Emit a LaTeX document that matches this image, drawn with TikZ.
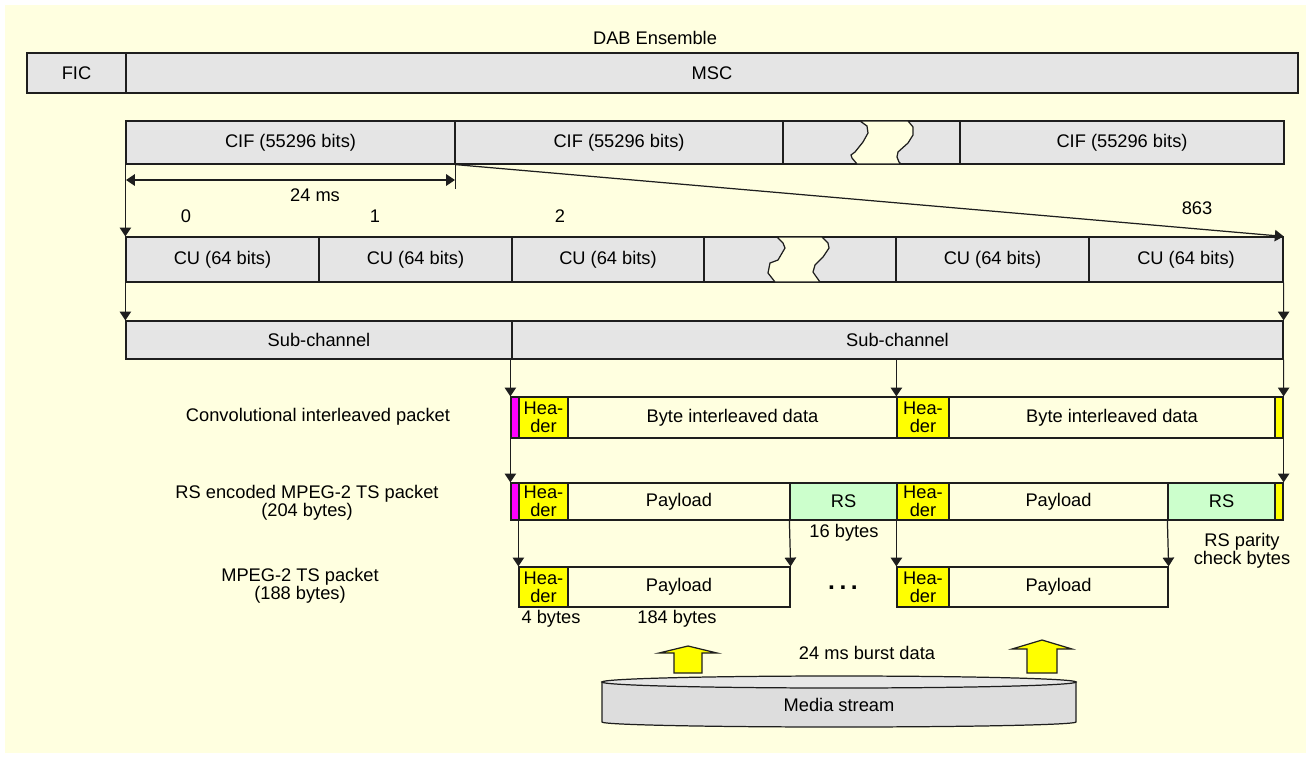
\documentclass[tikz,border=0pt]{standalone}
\usepackage{fontspec}
\setmainfont{Liberation Sans}
\usepackage{xcolor}
\usetikzlibrary{arrows.meta,fit,calc}
\definecolor{bgyellow}{RGB}{255,255,224}
\definecolor{cellgray}{RGB}{229,229,229}
\definecolor{rsgreen}{RGB}{204,255,204}
\definecolor{hdryellow}{RGB}{255,255,0}
\definecolor{hdrmagenta}{RGB}{255,0,255}
\definecolor{edge}{RGB}{30,30,30}
\definecolor{cylbody}{RGB}{221,221,221}
\definecolor{cyltop}{RGB}{230,230,230}
\tikzstyle{cell}  =[draw=edge, fill=cellgray, line width=0.7pt, inner sep=0pt]
\tikzstyle{plain} =[draw=edge, line width=0.7pt, inner sep=0pt]
\tikzstyle{hdr}   =[plain, fill=hdryellow]
\tikzstyle{strip} =[plain, fill=hdrmagenta]
\tikzstyle{tail}  =[plain, fill=hdryellow]
\tikzstyle{rsbox} =[plain, fill=rsgreen]
\tikzstyle{arr}   =[-{Triangle[width=6.5pt,length=5pt]}, line width=0.7pt, draw=edge]
\tikzstyle{dblarr}=[{Triangle[width=6.5pt,length=5pt]}-{Triangle[width=6.5pt,length=5pt]}, line width=0.7pt, draw=edge]
\tikzstyle{push}  =[fill=hdryellow, draw=edge, line width=0.7pt]
\tikzset{boxtext/.style={label={[align=center]center:#1}}}

\begin{document}
\begin{tikzpicture}[x=0.02cm, y=-0.02cm, every node/.style={font=\fontsize{10.4}{10.2}\selectfont}]

  % ── canvas ─────────────────────────────────────────────────────────────────
  \useasboundingbox (0,0) rectangle (1311,758);
  \fill[white]    (0,0) rectangle (1311,758);
  \fill[bgyellow] (5,5) rectangle (1306,753);

  % ── ensemble ───────────────────────────────────────────────────────────────
  \node (dab) at (655,38) {DAB Ensemble};
  \node[cell, fit={(27,53)(126,93)},   boxtext=FIC] (fic) {};
  \node[cell, fit={(126,53)(1298,93)}, boxtext=MSC] (msc) {};

  % ── CIFs ───────────────────────────────────────────────────────────────────
  \node[cell, fit={(126,121)(455,164)},  boxtext={CIF (55296 bits)}] (cif1) {};
  \node[cell, fit={(455,121)(783,164)},  boxtext={CIF (55296 bits)}] (cif2) {};
  \node[cell, fit={(783,121)(960,164)}]                              (cifgap) {};
  \node[cell, fit={(960,121)(1284,164)}, boxtext={CIF (55296 bits)}] (cif3) {};
  \filldraw[fill=bgyellow, draw=edge, line width=0.7pt]
    (860,121) -- (867,126) -- (868,133) -- (863,142) -- (855,152) -- (851,155) -- (852,158) -- (857,164)
    -- (901,164) -- (899,162) -- (897,157) -- (898,152) -- (908,143) -- (913,135) -- (913,127) -- (908,121) -- cycle;

  % ── CUs ────────────────────────────────────────────────────────────────────
  \node[cell, fit={(126,237)(319,282)},   boxtext={CU (64 bits)}] (cu1) {};
  \node[cell, fit={(319,237)(512,282)},   boxtext={CU (64 bits)}] (cu2) {};
  \node[cell, fit={(512,237)(704,282)},   boxtext={CU (64 bits)}] (cu3) {};
  \node[cell, fit={(704,237)(896,282)}]                           (cugap) {};
  \node[cell, fit={(896,237)(1089,282)},  boxtext={CU (64 bits)}] (cu5) {};
  \node[cell, fit={(1089,237)(1283,282)}, boxtext={CU (64 bits)}] (cu6) {};
  \filldraw[fill=bgyellow, draw=edge, line width=0.7pt]
    (777,237) -- (783,243) -- (785,248) -- (778,260) -- (770,263) -- (768,273) -- (775,282)
    -- (820,282) -- (815,275) -- (813,272) -- (815,265) -- (823,257) -- (829,248) -- (828,243) -- (822,237) -- cycle;

  \node (n0)   at (186,216)  {0};
  \node (n1)   at (375,216)  {1};
  \node (n2)   at (560,216)  {2};
  \node (n863) at (1197,208) {863};

  % ── sub-channels ───────────────────────────────────────────────────────────
  \node[cell, fit={(126,321)(512,359)},  boxtext=Sub-channel] (sub1) {};
  \node[cell, fit={(512,321)(1283,359)}, boxtext=Sub-channel] (sub2) {};

  % ── convolutional interleaved packet ───────────────────────────────────────
  \node[strip, fit={(511,397)(519,438)}]                                      (cmag)  {};
  \node[hdr,   fit={(519,397)(568,438)},  boxtext={Hea-\\der}]                (chd1)  {};
  \node[plain, fit={(568,397)(897,438)},  boxtext={Byte interleaved data}]    (cdat1) {};
  \node[hdr,   fit={(897,397)(949,438)},  boxtext={Hea-\\der}]                (chd2)  {};
  \node[plain, fit={(949,397)(1275,438)}, boxtext={Byte interleaved data}]    (cdat2) {};
  \node[tail,  fit={(1275,397)(1283,438)}]                                    (cyel)  {};

  % ── RS encoded packet ──────────────────────────────────────────────────────
  \node[strip, fit={(511,483)(519,520)}]                           (rmag)  {};
  \node[hdr,   fit={(519,483)(568,520)},   boxtext={Hea-\\der}]    (rhd1)  {};
  \node[plain, fit={(568,483)(790,520)},   boxtext=Payload]        (rpay1) {};
  \node[rsbox, fit={(790,483)(897,520)},   boxtext=RS]             (rrs1)  {};
  \node[hdr,   fit={(897,483)(949,520)},   boxtext={Hea-\\der}]    (rhd2)  {};
  \node[plain, fit={(949,483)(1168,520)},  boxtext=Payload]        (rpay2) {};
  \node[rsbox, fit={(1168,483)(1275,520)}, boxtext=RS]             (rrs2)  {};
  \node[tail,  fit={(1275,483)(1283,520)}]                         (ryel)  {};

  % ── TS packet ──────────────────────────────────────────────────────────────
  \node[hdr,   fit={(519,567)(568,607)},  boxtext={Hea-\\der}] (mhd1)  {};
  \node[plain, fit={(568,567)(790,607)},  boxtext=Payload]     (mpay1) {};
  \node[hdr,   fit={(897,567)(949,607)},  boxtext={Hea-\\der}] (mhd2)  {};
  \node[plain, fit={(949,567)(1168,607)}, boxtext=Payload]     (mpay2) {};
  \node (dots) at (843,588) {\fontsize{14}{14}\bfseries .\hspace{2.6pt}.\hspace{2.6pt}.};

  % ── row labels ─────────────────────────────────────────────────────────────
  \node[align=center] (lconv) at (318,417) {Convolutional interleaved packet};
  \node[align=center] (lrs)   at (307,503) {RS encoded MPEG-2 TS packet\\(204 bytes)};
  \node[align=center] (lts)   at (300,586) {MPEG-2 TS packet\\(188 bytes)};
  \node (b16)  at (844,533) {16 bytes};
  \node[align=center] (parity) at (1242,551) {RS parity\\check bytes};
  \node (b4)   at (551,619) {4 bytes};
  \node (b184) at (677,619) {184 bytes};

  % ── flow ───────────────────────────────────────────────────────────────────
  \coordinate (msL) at (126,180);
  \coordinate (msR) at (455,180);
  \draw[dblarr] (msL) -- (msR);
  \node (ms) at (315,195) {24 ms};
  \draw[line width=0.7pt, draw=edge] (cif1.south east) -- ++(0,24);
  \draw[arr] (cif1.south west) -- (cu1.north west);
  \draw[arr] (cif1.south east) -- (cu6.north east);
  \draw[arr] (cu1.south west)  -- (sub1.north west);
  \draw[arr] (cu6.south east)  -- (sub2.north east);
  \draw[arr] (cmag.north west |- sub2.south) -- (cmag.north west);
  \draw[arr] (chd2.north west |- sub2.south) -- (chd2.north west);
  \draw[arr] (sub2.south east) -- (cyel.north east);
  \draw[arr] (cmag.south west) -- (rmag.north west);
  \draw[arr] (cyel.south east) -- (ryel.north east);
  \draw[arr] (rhd1.south west) -- (mhd1.north west);
  \draw[arr] (rrs1.south west) -- (mpay1.north east);
  \draw[arr] (rhd2.south west) -- (mhd2.north west);
  \draw[arr] (rrs2.south west) -- (mpay2.north east);

  % ── media stream ───────────────────────────────────────────────────────────
  \filldraw[push] (674,673) -- (674,653) -- (659,653) -- (688,646) -- (717,653) -- (702,653) -- (702,673) -- cycle;
  \filldraw[push] (1027,673) -- (1027,649) -- (1012,649) -- (1042,640) -- (1072,649) -- (1057,649) -- (1057,673) -- cycle;
  \node (burst) at (867,653) {24 ms burst data};
  \filldraw[fill=cylbody, draw=edge, line width=0.7pt]
    (602,682) -- (602,722) arc[start angle=180, end angle=0, x radius=237, y radius=5] -- (1076,682) -- cycle;
  \filldraw[fill=cyltop, draw=edge, line width=0.7pt] (839,682) ellipse[x radius=237, y radius=6];
  \node (media) at (839,705) {Media stream};

\end{tikzpicture}
\end{document}
